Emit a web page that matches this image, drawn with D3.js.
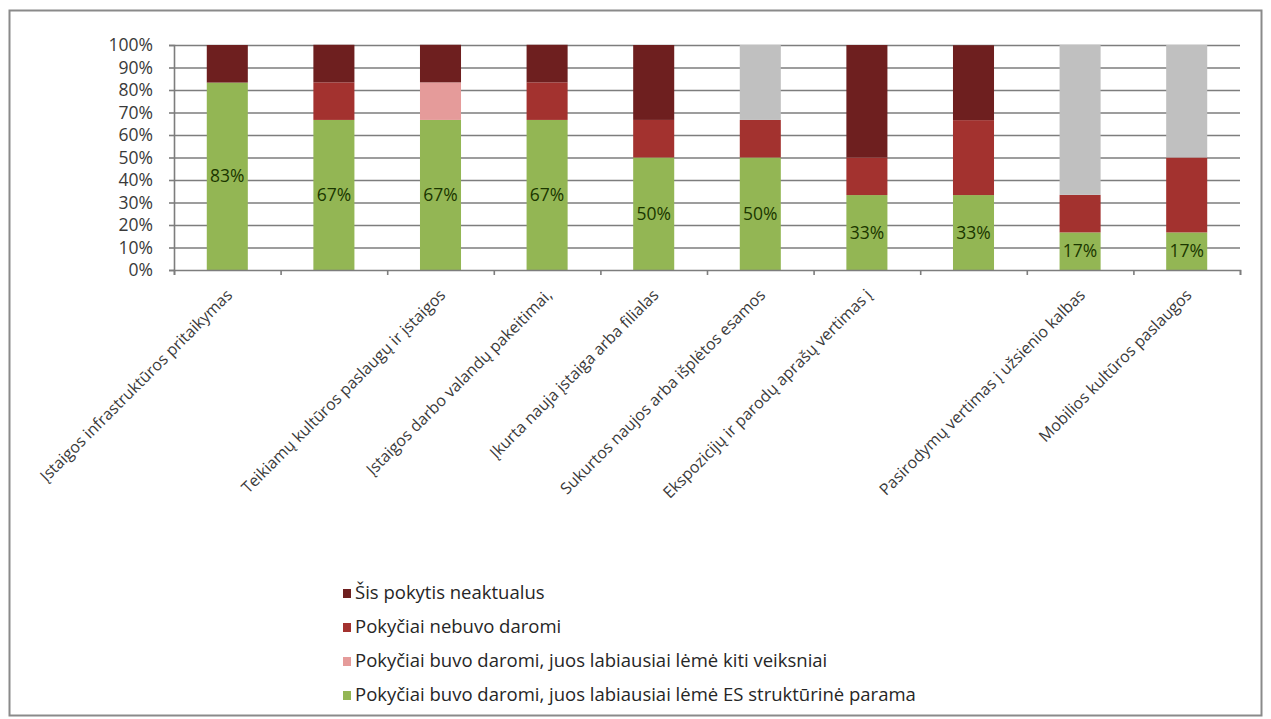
<!DOCTYPE html>
<html><head><meta charset="utf-8">
<script src="https://cdn.jsdelivr.net/npm/d3@7"></script>
<style>
html,body{margin:0;padding:0;background:#fff;}
svg{display:block;}
text{font-family:"Open Sans",sans-serif;}
</style></head>
<body>
<svg id="c" width="1271" height="719"></svg>
<script>
// ---- data ----
const tickLabels = [
  "Įstaigos infrastruktūros pritaikymas",
  "",
  "Teikiamų kultūros paslaugų ir įstaigos",
  "Įstaigos darbo valandų pakeitimai,",
  "Įkurta nauja įstaiga arba filialas",
  "Sukurtos naujos arba išplėtos esamos",
  "Ekspozicijų ir parodų aprašų vertimas į",
  "",
  "Pasirodymų vertimas į užsienio kalbas",
  "Mobilios kultūros paslaugos"
];
const esParama   = [83.3, 66.7, 66.7, 66.7, 50, 50, 33.3, 33.3, 16.7, 16.7];
const kitiVeiks  = [0, 0, 16.7, 0, 0, 0, 0, 0, 0, 0];
const nebuvo     = [0, 16.7, 0, 16.7, 16.7, 16.7, 16.7, 33.3, 16.7, 33.3];
const kita       = [0, 0, 0, 0, 0, 33.3, 0, 0, 66.7, 50];
const neaktualus = [16.7, 16.7, 16.7, 16.7, 33.3, 0, 50, 33.3, 0, 0];
const yTicks = [0,10,20,30,40,50,60,70,80,90,100];
const legendNames = [
  "Šis pokytis neaktualus",
  "Pokyčiai nebuvo daromi",
  "Pokyčiai buvo daromi, juos labiausiai lėmė kiti veiksniai",
  "Pokyčiai buvo daromi, juos labiausiai lėmė ES struktūrinė parama"
];

// ---- build ----
const series = [
  {key:"es", vals:esParama, color:"#93b654"},
  {key:"kiti", vals:kitiVeiks, color:"#e59b9a"},
  {key:"nebuvo", vals:nebuvo, color:"#a3322f"},
  {key:"kita", vals:kita, color:"#c0c0c0"},
  {key:"neaktualus", vals:neaktualus, color:"#6e1f1f"}
];
const rows = tickLabels.map((t,i)=>{
  const r = {i};
  series.forEach(s=>r[s.key]=s.vals[i]);
  return r;
});
const stack = d3.stack().keys(series.map(s=>s.key))(rows);

const svg = d3.select("#c");
// frame
svg.append("rect").attr("x",9.5).attr("y",10.5).attr("width",1252).attr("height",705)
  .attr("fill","#fff").attr("stroke","#8a8a8a").attr("stroke-width",2);

const L=174, R=1240, T=45, B=270;
const x = d3.scaleBand().domain(d3.range(tickLabels.length)).range([L,R])
  .paddingInner(0.615).paddingOuter(0.3075);
const y = d3.scaleLinear().domain([0,100]).range([B,T]);

// gridlines
const grid = svg.append("g").attr("transform",`translate(${L},0)`)
  .call(d3.axisLeft(y).tickValues(yTicks.slice(1)).tickSize(-(R-L)).tickFormat(""));
grid.select(".domain").remove();
grid.selectAll("line").attr("stroke","#7d7d7d").attr("stroke-width",1.6);

// bars
const colorOf = Object.fromEntries(series.map(s=>[s.key,s.color]));
svg.append("g").selectAll("g").data(stack).join("g")
  .attr("fill",d=>colorOf[d.key])
  .selectAll("rect").data(d=>d).join("rect")
  .attr("x",d=>x(d.data.i))
  .attr("width",x.bandwidth())
  .attr("y",d=>y(d[1]))
  .attr("height",d=>y(d[0])-y(d[1]));

// data labels on ES series
const esLayer = stack[0];
svg.append("g").selectAll("text").data(esLayer).join("text")
  .attr("x",d=>x(d.data.i)+x.bandwidth()/2)
  .attr("y",d=>y((d[0]+d[1])/2))
  .attr("dy","0.35em")
  .attr("text-anchor","middle")
  .attr("font-size","17.5px")
  .attr("fill","#1b3600")
  .text(d=>Math.round(d[1]-d[0])+"%");

// y axis
const ya = svg.append("g").attr("transform",`translate(${L},0)`)
  .call(d3.axisLeft(y).tickValues(yTicks).tickSize(5).tickPadding(16).tickFormat(d=>d+"%"));
ya.select(".domain").attr("stroke","#7d7d7d").attr("stroke-width",1.6);
ya.selectAll("line").attr("stroke","#7d7d7d").attr("stroke-width",1.6);
ya.selectAll("text").attr("font-size","17.5px").attr("fill","#3a3a3a")
  .attr("font-family","'Open Sans',sans-serif");

// x axis with ticks at category boundaries
const xb = d3.scaleLinear().domain([0,tickLabels.length]).range([L,R]);
const xa = svg.append("g").attr("transform",`translate(0,${B})`)
  .call(d3.axisBottom(xb).ticks(tickLabels.length).tickSize(5).tickFormat(""));
xa.select(".domain").attr("stroke","#7d7d7d").attr("stroke-width",1.6);
xa.selectAll("line").attr("stroke","#7d7d7d").attr("stroke-width",1.6);

// rotated category labels
svg.append("g").selectAll("text").data(tickLabels).join("text")
  .attr("transform",(d,i)=>`translate(${x(i)+x.bandwidth()/2+6},${B+26}) rotate(-45)`)
  .attr("text-anchor","end")
  .attr("font-size","16px")
  .attr("fill","#3a3a3a")
  .text(d=>d);

// legend (4 entries)
const legendColors = ["#6e1f1f","#a3322f","#e59b9a","#93b654"];
const lg = svg.append("g").selectAll("g").data(legendNames).join("g")
  .attr("transform",(d,i)=>`translate(343,${599+i*34})`);
lg.append("rect").attr("x",0).attr("y",-10).attr("width",8).attr("height",9)
  .attr("fill",(d,i)=>legendColors[i]);
lg.append("text").attr("x",12).attr("y",0).attr("font-size","18.5px").attr("fill","#262626")
  .text(d=>d);
</script>
</body></html>
